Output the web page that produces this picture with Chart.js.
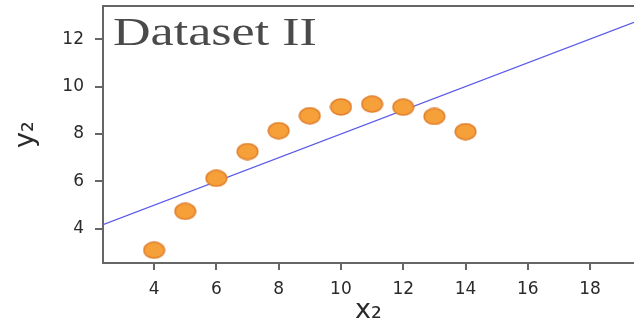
<!DOCTYPE html>
<html lang="en">
<head>
  <meta charset="UTF-8">
  <title>Dataset II</title>
  <script src="https://cdn.jsdelivr.net/npm/chart.js"></script>
  <style>
    html, body { margin: 0; padding: 0; background: #fff; }
    .chart-box { width: 634px; height: 327px; }
  </style>
</head>
<body>
  <div class="chart-box">
    <canvas id="myChart" width="634" height="327"></canvas>
  </div>

  <script>
    // Anscombe's quartet, dataset II
    const xValues = [10, 8, 13, 9, 11, 14, 6, 4, 12, 7, 5];
    const yValues = [9.14, 8.14, 8.74, 8.77, 9.26, 8.10, 6.13, 3.10, 9.13, 7.26, 4.74];
    // fitted line, ends
    const lineX = [2.36, 19.41];
    const lineY = [4.18, 12.71];
    const xTicks = [4, 6, 8, 10, 12, 14, 16, 18];
    const yTicks = [4, 6, 8, 10, 12];

    const points = xValues.map((x, i) => ({ x: x, y: yValues[i] }));
    const fitLine = lineX.map((x, i) => ({ x: x, y: lineY[i] }));

    // the picture is stretched sideways, so the dots are little ellipses
    function makeDot() {
      const c = document.createElement('canvas');
      c.width = 23;
      c.height = 18;
      const g = c.getContext('2d');
      g.beginPath();
      g.ellipse(11.5, 9, 10.3, 7.9, 0, 0, Math.PI * 2);
      g.fillStyle = '#f6a03a';
      g.fill();
      g.lineWidth = 1.5;
      g.strokeStyle = '#e17f2c';
      g.stroke();
      return c;
    }

    // top edge of the box + the title inside the plot
    const framePlugin = {
      id: 'frame',
      afterDraw(chart) {
        const { ctx, chartArea } = chart;
        ctx.save();
        ctx.strokeStyle = '#666';
        ctx.lineWidth = 2;
        ctx.beginPath();
        ctx.moveTo(chartArea.left - 1, chartArea.top);
        ctx.lineTo(chartArea.right, chartArea.top);
        ctx.stroke();
        ctx.fillStyle = '#4a4a4a';
        ctx.font = '41px "Liberation Serif", "Times New Roman", serif';
        ctx.textBaseline = 'alphabetic';
        ctx.translate(chartArea.left + 10, chartArea.top + 39);
        ctx.scale(1.27, 1);
        ctx.fillText('Dataset II', 0, 0);
        ctx.restore();
      }
    };

    const tickFont = { family: '"DejaVu Sans", Verdana, sans-serif', size: 17 };
    const titleFont = { family: '"DejaVu Sans", "Liberation Sans", sans-serif', size: 27 };

    new Chart(document.getElementById('myChart'), {
      type: 'scatter',
      data: {
        datasets: [
          {
            data: fitLine,
            type: 'line',
            borderColor: '#5b5bea',
            borderWidth: 1.2,
            pointRadius: 0,
            fill: false,
            order: 2
          },
          {
            data: points,
            pointStyle: makeDot(),
            pointRadius: 10,
            order: 1
          }
        ]
      },
      options: {
        responsive: false,
        animation: false,
        // no extra room for the big points, the box runs to the right edge
        layout: { autoPadding: false, padding: { top: 6, right: 0, left: 0, bottom: 0 } },
        plugins: { legend: { display: false }, tooltip: { enabled: false } },
        scales: {
          x: {
            type: 'linear',
            min: 2.36,
            max: 19.41,
            afterBuildTicks: s => { s.ticks = xTicks.map(v => ({ value: v })); },
            afterFit: s => { s.height = 64; s.paddingLeft = 0; s.paddingRight = 0; },
            grid: { drawOnChartArea: false, tickLength: 7, color: '#666', lineWidth: 2 },
            border: { color: '#666', width: 2 },
            ticks: { font: tickFont, color: '#2a2a2a', padding: 9, maxRotation: 0 },
            title: { display: true, text: 'x₂', font: titleFont, color: '#2a2a2a', padding: { top: 0, bottom: 0 } }
          },
          y: {
            type: 'linear',
            min: 2.56,
            max: 13.4,
            afterBuildTicks: s => { s.ticks = yTicks.map(v => ({ value: v })); },
            afterFit: s => { s.width = 103; s.paddingTop = 0; s.paddingBottom = 0; },
            grid: { drawOnChartArea: false, tickLength: 8, color: '#666', lineWidth: 2 },
            border: { color: '#666', width: 2 },
            ticks: { font: tickFont, color: '#2a2a2a', padding: 11 },
            title: { display: true, text: 'y₂', font: titleFont, color: '#2a2a2a', padding: { top: 10, bottom: 0 } }
          }
        }
      },
      plugins: [framePlugin]
    });
  </script>
</body>
</html>
